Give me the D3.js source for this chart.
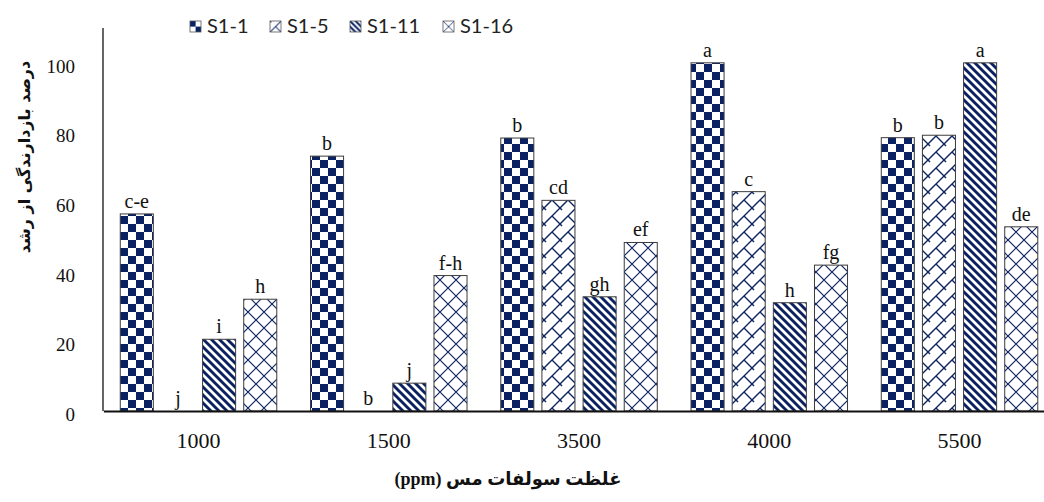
<!DOCTYPE html>
<html>
<head>
<meta charset="utf-8">
<script src="https://cdn.jsdelivr.net/npm/d3@7"></script>
<style>
  html, body { margin: 0; padding: 0; background: #ffffff; }
  svg { display: block; }
  .serif { font-family: "Liberation Serif", "DejaVu Serif", serif; }
</style>
</head>
<body>
<svg id="chart" width="1044" height="502"></svg>
<script>
// Copper sulfate concentrations (ppm) on the category axis
const categories = ["1000", "1500", "3500", "4000", "5500"];
const seriesNames = ["S1-1", "S1-5", "S1-11", "S1-16"];

// Growth inhibition (%) for each isolate
const valuesS1_1  = [56.6, 73.2, 78.4, 100, 78.5];
const valuesS1_5  = [0, 0, 60.5, 63.0, 79.2];
const valuesS1_11 = [20.6, 8.0, 32.8, 31.1, 100];
const valuesS1_16 = [32.1, 38.9, 48.4, 41.9, 52.9];

// Mean-comparison letters shown above the bars
const lettersS1_1  = ["c-e", "b", "b", "a", "b"];
const lettersS1_5  = ["j", "b", "cd", "c", "b"];
const lettersS1_11 = ["i", "j", "gh", "h", "a"];
const lettersS1_16 = ["h", "f-h", "ef", "fg", "de"];

const yTicks = [0, 20, 40, 60, 80, 100];

const allValues  = [valuesS1_1, valuesS1_5, valuesS1_11, valuesS1_16];
const allLetters = [lettersS1_1, lettersS1_5, lettersS1_11, lettersS1_16];

const NAVY = "#0b2262";
const SERIF = '"Liberation Serif", "DejaVu Serif", serif';
const svg = d3.select("#chart");

// ---- fill patterns -------------------------------------------------------
const defs = svg.append("defs");

function makePatterns(suffix, scale) {
  // checkerboard
  let p = defs.append("pattern").attr("id", "pat0" + suffix)
    .attr("patternUnits", "userSpaceOnUse").attr("width", 16).attr("height", 16)
    .attr("patternTransform", `scale(${scale})`);
  p.append("rect").attr("width", 16).attr("height", 16).attr("fill", "#fff");
  p.append("rect").attr("x", 0).attr("y", 0).attr("width", 8).attr("height", 8).attr("fill", NAVY);
  p.append("rect").attr("x", 8).attr("y", 8).attr("width", 8).attr("height", 8).attr("fill", NAVY);

  // diagonal brick
  p = defs.append("pattern").attr("id", "pat1" + suffix)
    .attr("patternUnits", "userSpaceOnUse").attr("width", 16).attr("height", 16)
    .attr("patternTransform", `scale(${scale})`);
  p.append("rect").attr("width", 16).attr("height", 16).attr("fill", "#fff");
  p.append("path")
    .attr("d", "M-2,18 L18,-2 M-2,2 L2,-2 M14,18 L18,14 M8,8 L18,18 M-2,-2 L2,2")
    .attr("stroke", NAVY).attr("stroke-width", 1.4).attr("fill", "none");

  // dark downward diagonal
  p = defs.append("pattern").attr("id", "pat2" + suffix)
    .attr("patternUnits", "userSpaceOnUse").attr("width", 8).attr("height", 8)
    .attr("patternTransform", `scale(${scale})`);
  p.append("rect").attr("width", 8).attr("height", 8).attr("fill", "#fff");
  p.append("path")
    .attr("d", "M-2,-2 L10,10 M6,-2 L10,2 M-2,6 L2,10")
    .attr("stroke", NAVY).attr("stroke-width", 2.9).attr("fill", "none");

  // outlined diamond
  p = defs.append("pattern").attr("id", "pat3" + suffix)
    .attr("patternUnits", "userSpaceOnUse").attr("width", 16).attr("height", 16)
    .attr("patternTransform", `scale(${scale})`);
  p.append("rect").attr("width", 16).attr("height", 16).attr("fill", "#fff");
  p.append("path")
    .attr("d", "M-2,-2 L18,18 M18,-2 L-2,18")
    .attr("stroke", NAVY).attr("stroke-width", 1.15).attr("fill", "none");
}
makePatterns("", 1);
makePatterns("L", 0.7);

// ---- scales ---------------------------------------------------------------
const y = d3.scaleLinear().domain([0, 110]).range([411, 28]);
const x0 = d3.scaleBand().domain(categories).range([103.4, 1054.65])
  .paddingInner(0).paddingOuter(0);
const x1 = d3.scaleBand().domain(seriesNames).range([0, x0.bandwidth()])
  .paddingInner(0.197).paddingOuter(0.41);

// ---- bars -----------------------------------------------------------------
const barData = [];
categories.forEach((c, ci) => {
  seriesNames.forEach((s, si) => {
    barData.push({ cat: c, series: s, si, value: allValues[si][ci], letter: allLetters[si][ci] });
  });
});

svg.append("g").selectAll("rect")
  .data(barData.filter(d => d.value > 0))
  .join("rect")
  .attr("x", d => x0(d.cat) + x1(d.series))
  .attr("y", d => y(d.value))
  .attr("width", x1.bandwidth())
  .attr("height", d => y(0) - y(d.value))
  .attr("fill", d => `url(#pat${d.si})`)
  .attr("stroke", "#3c3c3c")
  .attr("stroke-width", 1);

// letters above bars
svg.append("g").selectAll("text")
  .data(barData)
  .join("text")
  .attr("x", d => x0(d.cat) + x1(d.series) + x1.bandwidth() / 2)
  .attr("y", d => y(d.value) - 6)
  .attr("text-anchor", "middle")
  .style("font-family", SERIF)
  .style("font-size", "20px")
  .attr("fill", "#111")
  .text(d => d.letter);

// ---- axes -----------------------------------------------------------------
const yAxis = svg.append("g")
  .attr("transform", "translate(103,0)")
  .call(d3.axisLeft(y).tickValues(yTicks).tickSize(0).tickPadding(28));
yAxis.select(".domain").attr("stroke", "#333").attr("stroke-width", 1.5)
  .attr("d", `M0,${y(110)}V${y(0)}`);
yAxis.selectAll("text")
  .style("font-family", SERIF)
  .style("font-size", "19px").attr("fill", "#111").attr("dy", "0.5em");

const xAxis = svg.append("g")
  .attr("transform", `translate(0,${y(0)})`)
  .call(d3.axisBottom(x0).tickSize(0).tickSizeOuter(0).tickPadding(21));
xAxis.select(".domain").attr("stroke", "#111").attr("stroke-width", 2);
xAxis.selectAll("text")
  .style("font-family", SERIF)
  .style("font-size", "22px").attr("fill", "#111");

// ---- axis titles ----------------------------------------------------------
svg.append("text")
  .attr("transform", "translate(30,157) rotate(-90)")
  .attr("text-anchor", "middle")
  .attr("direction", "rtl")
  .style("font-family", '"DejaVu Sans", sans-serif')
  .style("font-weight", "bold")
  .style("font-size", "16px")
  .attr("fill", "#111")
  .text("درصد بازدارندگی از رشد");

svg.append("text")
  .attr("x", 508).attr("y", 485)
  .attr("text-anchor", "middle")
  .attr("direction", "rtl")
  .style("font-family", '"Liberation Serif", "DejaVu Sans", serif')
  .style("font-weight", "bold")
  .style("font-size", "18px")
  .attr("fill", "#111")
  .text("غلظت سولفات مس (ppm)");

// ---- legend ---------------------------------------------------------------
const legendX = [190, 270, 350, 443];
const legend = svg.append("g");
seriesNames.forEach((s, i) => {
  const g = legend.append("g").attr("transform", `translate(${legendX[i]},21)`);
  g.append("rect").attr("width", 11).attr("height", 11)
    .attr("fill", `url(#pat${i}L)`).attr("stroke", "#555").attr("stroke-width", 0.8);
  g.append("text").attr("x", 17).attr("y", 11.5)
    .style("font-family", 'Lato, "Open Sans", sans-serif')
    .style("font-size", "20px").attr("fill", "#222")
    .text(s);
});
</script>
</body>
</html>
